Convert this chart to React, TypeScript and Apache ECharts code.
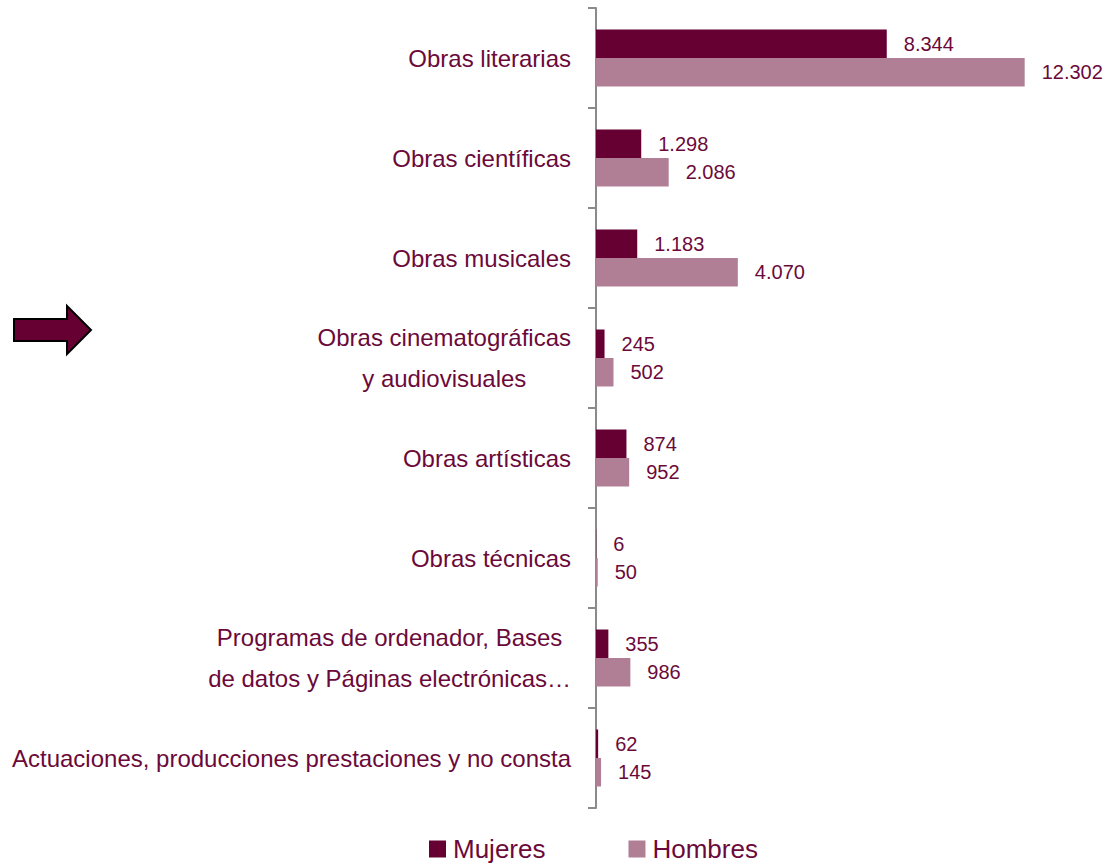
import React, { useEffect, useRef } from "react";
import * as echarts from "echarts";

const categories = [
  "Obras literarias",
  "Obras científicas",
  "Obras musicales",
  "Obras cinematográficas\ny audiovisuales",
  "Obras artísticas",
  "Obras técnicas",
  "Programas de ordenador, Bases\nde datos y Páginas electrónicas…",
  "Actuaciones, producciones prestaciones y no consta",
];
const mujeres = [8344, 1298, 1183, 245, 874, 6, 355, 62];
const hombres = [12302, 2086, 4070, 502, 952, 50, 986, 145];
const seriesNames = ["Mujeres", "Hombres"];

const TEXT = "#6b0a3a";
const FONT = "'Liberation Sans', Arial, sans-serif";

const fmt = (v: number) =>
  String(Math.round(v)).replace(/\B(?=(\d{3})+(?!\d))/g, ".");

export default function App() {
  const ref = useRef<HTMLDivElement>(null);
  useEffect(() => {
    if (!ref.current) return;
    const chart = echarts.init(ref.current, undefined, { renderer: "svg" });
    const labelStyle = {
      show: true,
      position: "right" as const,
      distance: 17,
      fontSize: 20,
      color: TEXT,
      fontFamily: FONT,
      formatter: (p: any) => fmt(p.value),
    };
    chart.setOption({
      animation: false,
      textStyle: { fontFamily: FONT },
      grid: { left: 596, top: 8, height: 800, right: 59, containLabel: false },
      xAxis: {
        type: "value",
        min: 0,
        max: 13000,
        show: false,
        splitLine: { show: false },
      },
      yAxis: {
        type: "category",
        inverse: true,
        data: categories,
        axisLine: { show: true, lineStyle: { color: "#8a8a8a", width: 2 } },
        axisTick: { show: true, length: 8, lineStyle: { color: "#8a8a8a", width: 2 } },
        axisLabel: {
          margin: 25,
          fontSize: 24,
          color: TEXT,
          fontFamily: FONT,
          lineHeight: 41,
          formatter: (v: string) =>
            v.indexOf("\n") >= 0
              ? v
                  .split("\n")
                  .map((l) => `{c|${l}}`)
                  .join("\n")
              : v,
          rich: {
            c: {
              align: "center",
              fontSize: 24,
              color: TEXT,
              fontFamily: FONT,
              lineHeight: 41,
            },
          },
        },
      },
      legend: {
        left: 429,
        top: 836,
        padding: 0,
        itemWidth: 17,
        itemHeight: 17,
        itemGap: 83,
        icon: "rect",
        textStyle: { fontSize: 26, color: TEXT, fontFamily: FONT, padding: [0, 0, 0, 2] },
        data: seriesNames,
      },
      series: [
        {
          name: seriesNames[0],
          type: "bar",
          data: mujeres,
          barGap: "0%",
          barCategoryGap: "43%",
          itemStyle: { color: "#660033" },
          label: labelStyle,
        },
        {
          name: seriesNames[1],
          type: "bar",
          data: hombres,
          barGap: "0%",
          barCategoryGap: "43%",
          itemStyle: { color: "#b07f96" },
          label: labelStyle,
        },
      ],
      graphic: [
        {
          type: "polygon",
          shape: {
            points: [
              [14, 319],
              [67, 319],
              [67, 306],
              [91, 330],
              [67, 354],
              [67, 341],
              [14, 341],
            ],
          },
          style: { fill: "#660033", stroke: "#000", lineWidth: 2 },
        },
      ],
    });
    return () => chart.dispose();
  }, []);
  return (
    <div
      ref={ref}
      style={{ position: "absolute", left: 0, top: 0, width: 1108, height: 865 }}
    />
  );
}
